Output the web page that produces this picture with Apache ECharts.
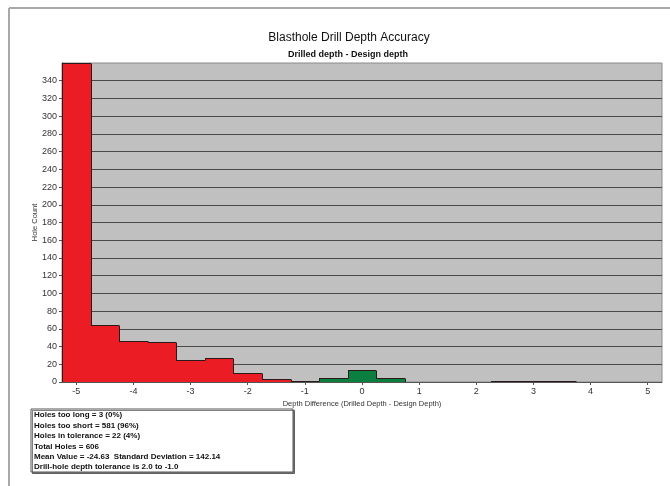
<!DOCTYPE html>
<html>
<head>
<meta charset="utf-8">
<script src="https://cdn.jsdelivr.net/npm/echarts@6/dist/echarts.min.js"></script>
<style>html,body{margin:0;padding:0;background:#fff}#c{width:670px;height:486px}</style>
</head>
<body>
<div id="c"></div>
<script>
// ---- data ----
const binCenters = [-5, -4.5, -4, -3.5, -3, -2.5, -2, -1.5, -1, -0.5, 0, 0.5, 1, 1.5, 2, 2.5, 3, 3.5, 4, 4.5, 5];
const counts     = [360, 64, 46, 45, 25, 27, 10, 3, 1, 4, 13, 5, 0, 0, 0, 1, 1, 1, 0, 0, 0];
const binWidth = 0.5;
const toleranceLow = -1.0, toleranceHigh = 2.0;
const xTickLabels = [-5, -4, -3, -2, -1, 0, 1, 2, 3, 4, 5];
const yTickLabels = [0, 20, 40, 60, 80, 100, 120, 140, 160, 180, 200, 220, 240, 260, 280, 300, 320, 340];
const titleText = 'Blasthole Drill Depth Accuracy';
const subtitleText = 'Drilled depth - Design depth';
const xAxisName = 'Depth Difference (Drilled Depth - Design Depth)';
const yAxisName = 'Hole Count';
const statsLines = [
  'Holes too long = 3 (0%)',
  'Holes too short = 581 (96%)',
  'Holes in tolerance = 22 (4%)',
  'Total Holes = 606',
  'Mean Value = -24.63  Standard Deviation = 142.14',
  'Drill-hole depth tolerance is 2.0 to -1.0'
];

const RED = '#ec1c24', GREEN = '#0b7f3f', OUTLINE = '#2a1a1a';
const chart = echarts.init(document.getElementById('c'), null, {renderer: 'canvas'});
const xMin = binCenters[0] - binWidth / 2, xMax = binCenters[binCenters.length - 1] + binWidth / 2;

const seriesData = binCenters.map((c, i) => [c, counts[i]]);

function renderItem(params, api) {
  const i = params.dataIndex;
  const c = api.value(0), v = api.value(1);
  const prev = i > 0 ? counts[i - 1] : 0;
  const pL = api.coord([c - binWidth / 2, v]);
  const pR = api.coord([c + binWidth / 2, 0]);
  const pPrev = api.coord([c - binWidth / 2, prev]);
  const xl = Math.round(pL[0]), xr = Math.round(pR[0]);
  const yt = Math.round(pL[1]) + 0.5, yb = Math.round(pR[1]), yp = Math.round(pPrev[1]) + 0.5;
  const inTol = c > toleranceLow && c <= toleranceHigh;
  const children = [];
  if (v > 0) {
    children.push({type: 'rect', shape: {x: xl, y: yt, width: xr - xl, height: yb - yt},
      style: {fill: inTol ? GREEN : RED}});
    children.push({type: 'line', shape: {x1: xl, y1: yt, x2: xr, y2: yt},
      style: {stroke: OUTLINE, lineWidth: 1}});
  }
  if (prev !== v) {
    children.push({type: 'line', shape: {x1: xl + 0.5, y1: yp, x2: xl + 0.5, y2: yt},
      style: {stroke: OUTLINE, lineWidth: 1}});
  }
  if (i === counts.length - 1 && v > 0) {
    children.push({type: 'line', shape: {x1: xr - 0.5, y1: yt, x2: xr - 0.5, y2: yb},
      style: {stroke: OUTLINE, lineWidth: 1}});
  }
  return {type: 'group', children};
}

const labelFont = {fontFamily: 'Liberation Sans, Arial, sans-serif', fontSize: 9, color: '#333'};

chart.setOption({
  animation: false,
  backgroundColor: '#fff',
  title: [
    {text: titleText, left: 344, top: 27, textAlign: 'center',
     textStyle: {fontFamily: 'Liberation Sans, Arial, sans-serif', fontSize: 12, fontWeight: 'normal', color: '#111'}},
    {text: subtitleText, left: 343, top: 45, textAlign: 'center',
     textStyle: {fontFamily: 'Liberation Sans, Arial, sans-serif', fontSize: 9, fontWeight: 'bold', color: '#111'}}
  ],
  grid: {left: 62, top: 63, right: 8, bottom: 104, show: true, backgroundColor: '#c0c0c0', borderColor: '#8a8a8a', borderWidth: 1},
  xAxis: {
    type: 'value', min: xMin, max: xMax,
    name: xAxisName, nameLocation: 'middle', nameGap: 18, nameMoveOverlap: false,
    nameTextStyle: {fontFamily: 'Liberation Sans, Arial, sans-serif', fontSize: 7.5, color: '#333'},
    axisLine: {onZero: false, lineStyle: {color: '#555'}},
    axisTick: {show: true, length: 3, lineStyle: {color: '#555'}, customValues: xTickLabels},
    axisLabel: Object.assign({margin: 5, customValues: xTickLabels}, labelFont),
    splitLine: {show: false}
  },
  yAxis: {
    type: 'value', min: 0, max: counts[0], interval: 20,
    name: yAxisName, nameLocation: 'middle', nameGap: 23, nameMoveOverlap: false,
    nameTextStyle: {fontFamily: 'Liberation Sans, Arial, sans-serif', fontSize: 7.5, color: '#333'},
    axisLine: {show: true, onZero: false, lineStyle: {color: '#333'}},
    axisTick: {show: true, length: 3, lineStyle: {color: '#555'}, customValues: yTickLabels},
    axisLabel: Object.assign({margin: 5, customValues: yTickLabels}, labelFont),
    splitLine: {show: true, lineStyle: {color: '#4a4a4a', width: 1}}
  },
  series: [{
    type: 'custom', renderItem, data: seriesData, encode: {x: 0, y: 1}, clip: true, z: 3
  }],
  graphic: [
    {type: 'line', shape: {x1: 9, y1: 8, x2: 670, y2: 8}, style: {stroke: '#a8a8a8', lineWidth: 2}},
    {type: 'line', shape: {x1: 9, y1: 8, x2: 9, y2: 486}, style: {stroke: '#a8a8a8', lineWidth: 2}},
    {type: 'rect', shape: {x: 31, y: 409, width: 262, height: 63},
     style: {fill: '#fff', stroke: '#555', lineWidth: 1, shadowColor: 'rgba(0,0,0,0.5)', shadowOffsetX: 1.5, shadowOffsetY: 1.5, shadowBlur: 0}},
    {type: 'text', left: 34, top: 410,
     style: {text: statsLines.join('\n'), fontFamily: 'Liberation Sans, Arial, sans-serif', fontSize: 8, fontWeight: 'bold', lineHeight: 10.4, fill: '#111'}}
  ]
});
</script>
</body>
</html>
